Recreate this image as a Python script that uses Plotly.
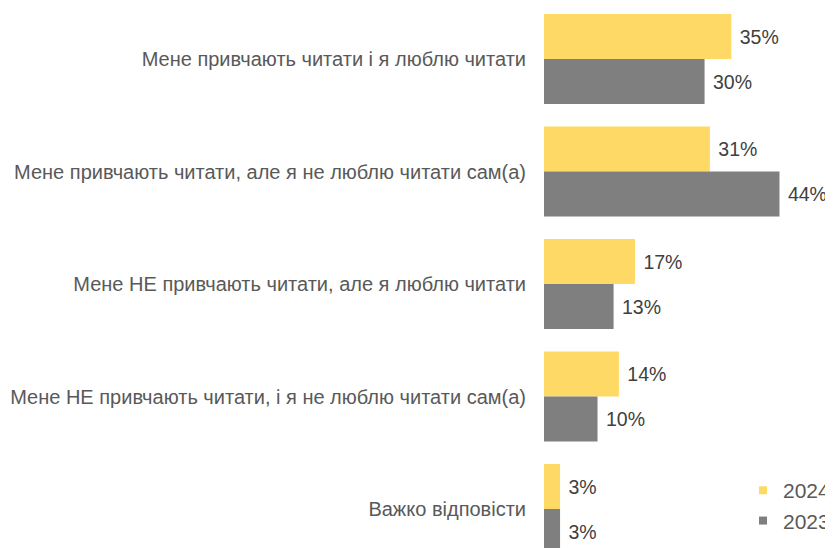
import plotly.graph_objects as go

categories = [
    "Мене привчають читати і я люблю читати",
    "Мене привчають читати, але я не люблю читати сам(а)",
    "Мене НЕ привчають читати, але я люблю читати",
    "Мене НЕ привчають читати, і я не люблю читати сам(а)",
    "Важко відповісти",
]
values_2024 = [35, 31, 17, 14, 3]
values_2023 = [30, 44, 13, 10, 3]
series_names = ["2024", "2023"]
series_colors = ["#FFD966", "#7F7F7F"]

label_font = dict(size=19.5, color="#404040", family="Liberation Sans")

fig = go.Figure()
for name, vals, col in zip(series_names, [values_2024, values_2023], series_colors):
    fig.add_trace(go.Bar(
        name=name, y=categories, x=vals, orientation="h",
        marker=dict(color=col, line=dict(width=0)),
        text=[f" {v}%" for v in vals], textposition="outside",
        textfont=label_font, cliponaxis=False, showlegend=False,
    ))
# legend entries with small square keys
for name, col in zip(series_names, series_colors):
    fig.add_trace(go.Scatter(
        name=name, x=[None], y=[None], mode="markers",
        marker=dict(symbol="square", size=8, color=col),
        showlegend=True,
    ))

# page body has an 8px margin, so the figure is drawn 8px right and down
fig.update_layout(
    width=825, height=540,
    margin=dict(l=536, r=0, t=0, b=0, autoexpand=False),
    paper_bgcolor="white", plot_bgcolor="white",
    barmode="group", bargap=0.2, bargroupgap=0,
    font=dict(family="Liberation Sans", color="#595959"),
    showlegend=True,
    legend=dict(
        x=0.6886, xanchor="left", y=0.0785, yanchor="middle",
        font=dict(size=21, color="#595959"),
        bgcolor="rgba(0,0,0,0)", borderwidth=0,
        itemwidth=30, tracegroupgap=0, itemsizing="trace",
    ),
)
fig.update_xaxes(range=[0, 54], visible=False, showgrid=False, zeroline=False)
fig.update_yaxes(
    range=[4.3467, -0.4533], showgrid=False, zeroline=False, showline=False,
    ticks="", ticklabelstandoff=17,
    tickfont=dict(size=20, color="#595959", family="Liberation Sans"),
)

fig.write_html("out.html")
